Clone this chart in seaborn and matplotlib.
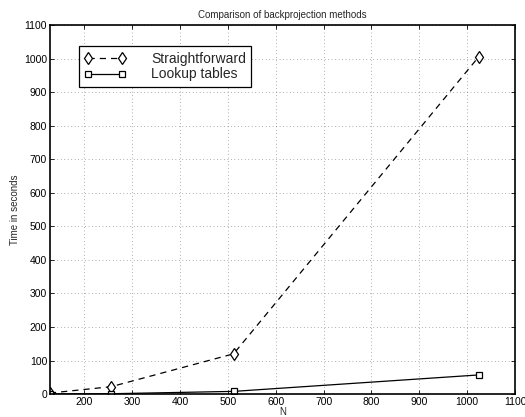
import matplotlib
matplotlib.use("Agg")
import matplotlib.pyplot as plt
import seaborn as sns
import pandas as pd

# Image size N and measured backprojection times
sizes = [128, 256, 512, 1024]
straightforward = [3, 22, 120, 1005]
lookup_tables = [0.3, 1, 8, 57]

x_ticks = [200, 300, 400, 500, 600, 700, 800, 900, 1000, 1100]
y_ticks = list(range(0, 1200, 100))

sns.set_theme(style="white")
plt.rcParams["font.family"] = ["Liberation Sans", "DejaVu Sans"]

df = pd.DataFrame({"N": sizes, "Straightforward": straightforward, "Lookup tables": lookup_tables})

fig = plt.figure(figsize=(5.25, 4.17), dpi=100)
ax = fig.add_axes([0.095, 0.055, 0.886, 0.885])

sns.lineplot(data=df, x="N", y="Straightforward", ax=ax, color="black", linewidth=0.9,
             linestyle=(0, (5, 4)), marker="d", markersize=6, markerfacecolor="white",
             markeredgecolor="black", markeredgewidth=0.9, label="Straightforward")
sns.lineplot(data=df, x="N", y="Lookup tables", ax=ax, color="black", linewidth=0.9,
             marker="s", markersize=4, markerfacecolor="white",
             markeredgecolor="black", markeredgewidth=0.9, label="Lookup tables")

ax.set_xlim(128, 1100)
ax.set_ylim(0, 1100)
ax.set_xticks(x_ticks)
ax.set_yticks(y_ticks)
ax.tick_params(direction="in", length=3, width=0.6, labelsize=7.5, colors="black",
               top=True, right=True, bottom=True, left=True, pad=2)
ax.grid(True, linestyle=(0, (1, 4)), color="black", linewidth=0.5, alpha=0.6)
for s in ax.spines.values():
    s.set_linewidth(1.2)
    s.set_color("black")

ax.set_title("Comparison of backprojection methods", fontsize=7, pad=5)
ax.set_xlabel("N", fontsize=7, labelpad=0)
ax.set_ylabel("Time in seconds", fontsize=7, labelpad=3)

leg = ax.legend(loc="upper left", bbox_to_anchor=(0.062, 0.942), fontsize=10,
                frameon=True, fancybox=False, edgecolor="black", framealpha=1,
                numpoints=2, handlelength=3.0, borderpad=0.4, labelspacing=0.1,
                handletextpad=1.8, borderaxespad=0)
leg.get_frame().set_linewidth(0.9)

fig.savefig("out.png", dpi=100)
